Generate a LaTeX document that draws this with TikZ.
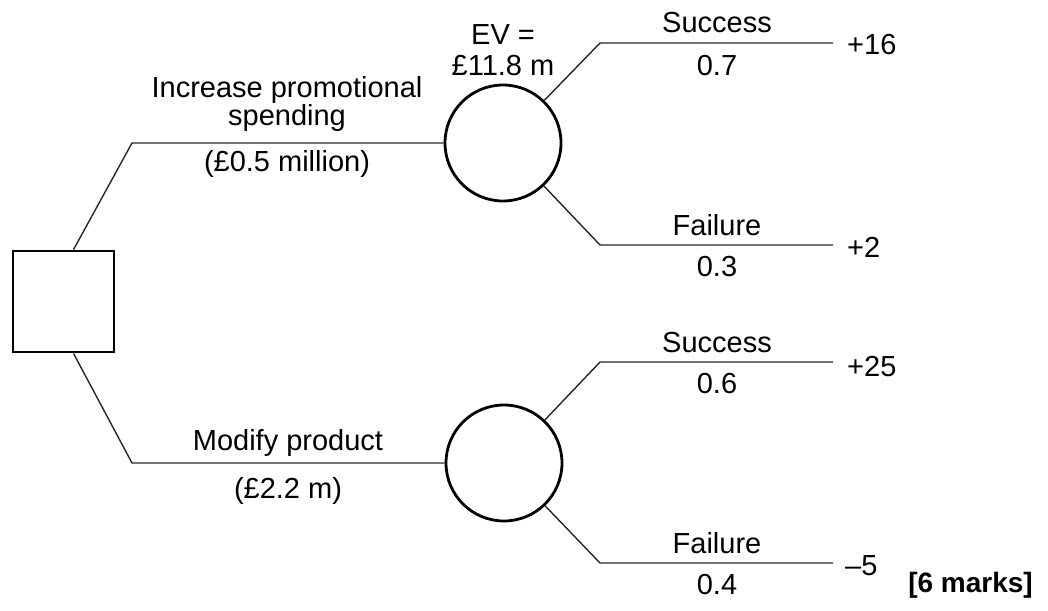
\documentclass[tikz,border=0pt]{standalone}
\usepackage{fontspec}
\setmainfont{Liberation Sans}
\usepackage{tikz}
\usetikzlibrary{calc}
\usetikzlibrary{positioning}

\begin{document}
\begin{tikzpicture}[x=1pt,y=-1pt,
  every node/.style={anchor=base,inner sep=0pt,font=\fontsize{29}{33}\selectfont},
  branch/.style={line width=1.4pt,black!85},
  decision/.style={draw,line width=2.8pt,minimum size=101pt,anchor=center},
  chance/.style={draw,circle,line width=2.8pt,minimum size=116pt,anchor=center},
  payoff/.style={anchor=base west}]
\useasboundingbox (0,0) rectangle (1048,610);
% nodes
\node[decision] (dec) at (63.5,301.5) {};
\node[chance] (ch1) at (503,143) {};
\node[chance] (ch2) at (504,463) {};
% bend points
\coordinate (b1) at (132,143);
\coordinate (b2) at (132,463);
\coordinate (s1) at (600,43);
\coordinate (f1) at (600,245);
\coordinate (s2) at (600,362);
\coordinate (f2) at (600,563);
\coordinate (e1) at (833,43);
\coordinate (e2) at (833,245);
\coordinate (e3) at (833,362);
\coordinate (e4) at (833,563);
% branches
\draw[branch] ([xshift=10pt]dec.north) -- (b1) -- (ch1);
\draw[branch] ([xshift=10pt]dec.south) -- (b2) -- (ch2);
\draw[branch] (ch1) -- (s1) -- (e1);
\draw[branch] (ch1) -- (f1) -- (e2);
\draw[branch] (ch2) -- (s2) -- (e3);
\draw[branch] (ch2) -- (f2) -- (e4);
% labels
\node (ev1) at (503,45) {EV =};
\node (ev2) at (503,75) {£11.8 m};
\node (a1) at (287,97) {Increase promotional};
\node (a2) at (287,125) {spending};
\node (a3) at (287,171) {(£0.5 million)};
\node (m1) at (288,450) {Modify product};
\node (m2) at (288,498) {(£2.2 m)};
\node (l1) at (717,33) {Success};
\node (p1) at (717,75) {0.7};
\node (l2) at (717,235) {Failure};
\node (p2) at (717,276) {0.3};
\node (l3) at (717,352) {Success};
\node (p3) at (717,393) {0.6};
\node (l4) at (717,553) {Failure};
\node (p4) at (717,594) {0.4};
% payoffs
\node[payoff] (v1) at (847,55) {+16};
\node[payoff] (v2) at (847,257) {+2};
\node[payoff] (v3) at (847,376) {+25};
\node[payoff] (v4) at (845,575) {--5};
\node[anchor=base east,font=\fontsize{28}{32}\selectfont\bfseries] (mk) at (1033,592) {[6 marks]};
\end{tikzpicture}
\end{document}
